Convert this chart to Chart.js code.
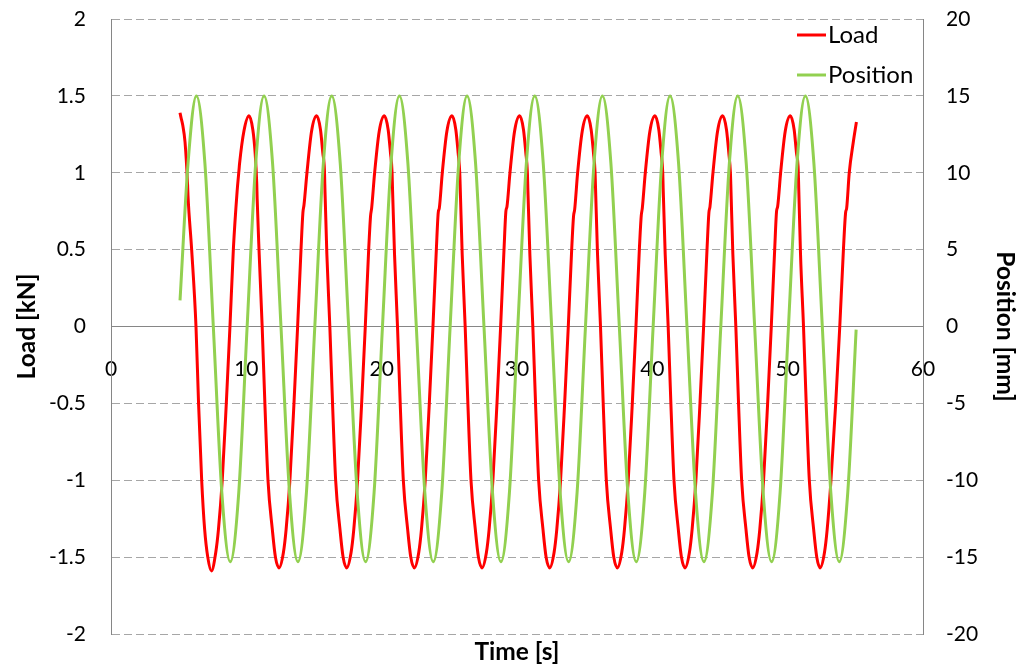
<!DOCTYPE html>
<html>
<head>
<meta charset="utf-8">
<script src="https://cdn.jsdelivr.net/npm/chart.js@4.4.1/dist/chart.umd.min.js"></script>
<style>
html,body{margin:0;padding:0;background:#fff;}
canvas{display:block;}
</style>
</head>
<body>
<canvas id="c" width="1025" height="669"></canvas>
<script>
// ---- data ----
const xTicks = [0, 10, 20, 30, 40, 50, 60];
const loadTicks = [-2, -1.5, -1, -0.5, 0, 0.5, 1, 1.5, 2];
const posTicks = [-20, -15, -10, -5, 0, 5, 10, 15, 20];

const loadTime = [
5.10,5.17,5.30,5.47,5.66,5.69,5.96,6.28,6.47,6.70,6.92,7.15,7.42,
7.74,7.94,8.22,8.52,8.79,9.04,9.32,9.46,9.50,9.82,10.20,
10.48,10.65,10.77,10.80,10.95,11.17,11.37,11.60,11.92,12.15,12.42,
12.74,12.94,13.22,13.52,13.79,14.04,14.18,14.26,14.48,14.82,15.20,
15.48,15.65,15.77,15.80,15.95,16.17,16.37,16.60,16.92,17.15,17.42,
17.74,17.94,18.22,18.52,18.79,19.04,19.18,19.26,19.48,19.82,20.20,
20.48,20.65,20.77,20.80,20.95,21.17,21.37,21.60,21.92,22.15,22.42,
22.74,22.94,23.22,23.52,23.79,24.04,24.18,24.26,24.48,24.82,25.20,
25.48,25.65,25.77,25.80,25.95,26.17,26.37,26.60,26.92,27.15,27.42,
27.74,27.94,28.22,28.52,28.79,29.04,29.18,29.26,29.48,29.82,30.20,
30.48,30.65,30.77,30.80,30.95,31.17,31.37,31.60,31.92,32.15,32.42,
32.74,32.94,33.22,33.52,33.79,34.04,34.18,34.26,34.48,34.82,35.20,
35.48,35.65,35.77,35.80,35.95,36.17,36.37,36.60,36.92,37.15,37.42,
37.74,37.94,38.22,38.52,38.79,39.04,39.18,39.26,39.48,39.82,40.20,
40.48,40.65,40.77,40.80,40.95,41.17,41.37,41.60,41.92,42.15,42.42,
42.74,42.94,43.22,43.52,43.79,44.04,44.18,44.26,44.48,44.82,45.20,
45.48,45.65,45.77,45.80,45.95,46.17,46.37,46.60,46.92,47.15,47.42,
47.74,47.94,48.22,48.52,48.79,49.04,49.18,49.26,49.48,49.82,50.20,
50.48,50.65,50.77,50.80,50.95,51.17,51.37,51.60,51.92,52.15,52.40,
52.72,52.92,53.20,53.55,53.85,54.12,54.28,54.36,54.55,54.85,55.08
];
const loadValue = [
1.39,1.36,1.31,1.20,0.92,0.85,0.50,0.00,-0.50,-1.00,-1.32,-1.50,-1.59,
-1.47,-1.32,-1.00,-0.50,0.00,0.50,0.88,1.02,1.06,1.27,1.37,
1.28,1.13,0.93,0.83,0.47,0.00,-0.50,-1.00,-1.32,-1.50,-1.57,
-1.47,-1.32,-1.00,-0.50,0.00,0.50,0.74,0.79,1.00,1.27,1.37,
1.28,1.13,1.02,0.92,0.47,0.00,-0.50,-1.00,-1.32,-1.50,-1.57,
-1.47,-1.32,-1.00,-0.50,0.00,0.50,0.72,0.77,1.00,1.27,1.37,
1.28,1.13,1.00,0.90,0.47,0.00,-0.50,-1.00,-1.32,-1.50,-1.57,
-1.47,-1.32,-1.00,-0.50,0.00,0.50,0.74,0.77,1.00,1.27,1.37,
1.28,1.13,1.00,0.92,0.47,0.00,-0.50,-1.00,-1.32,-1.50,-1.57,
-1.47,-1.32,-1.00,-0.50,0.00,0.50,0.75,0.78,1.00,1.27,1.37,
1.28,1.13,1.00,0.90,0.47,0.00,-0.50,-1.00,-1.32,-1.50,-1.57,
-1.47,-1.32,-1.00,-0.50,0.00,0.50,0.72,0.76,1.00,1.27,1.37,
1.28,1.13,1.00,0.91,0.47,0.00,-0.50,-1.00,-1.32,-1.50,-1.57,
-1.47,-1.32,-1.00,-0.50,0.00,0.50,0.72,0.77,1.00,1.27,1.37,
1.28,1.13,1.00,0.90,0.47,0.00,-0.50,-1.00,-1.32,-1.50,-1.57,
-1.47,-1.32,-1.00,-0.50,0.00,0.50,0.74,0.78,1.00,1.27,1.37,
1.28,1.13,1.00,0.92,0.47,0.00,-0.50,-1.00,-1.32,-1.50,-1.57,
-1.47,-1.32,-1.00,-0.50,0.00,0.50,0.75,0.78,1.00,1.27,1.37,
1.28,1.13,1.04,0.96,0.47,0.00,-0.50,-1.00,-1.32,-1.50,-1.57,
-1.47,-1.32,-1.00,-0.50,0.00,0.50,0.74,0.77,1.00,1.20,1.33
];

const posTime = [
5.10,
5.69,6.31,6.94,7.56,8.19,8.81,9.44,10.06,
10.69,11.31,11.94,12.56,13.19,13.81,14.44,15.06,
15.69,16.31,16.94,17.56,18.19,18.81,19.44,20.06,
20.69,21.31,21.94,22.56,23.19,23.81,24.44,25.06,
25.69,26.31,26.94,27.56,28.19,28.81,29.44,30.06,
30.69,31.31,31.94,32.56,33.19,33.81,34.44,35.06,
35.69,36.31,36.94,37.56,38.19,38.81,39.44,40.06,
40.69,41.31,41.94,42.56,43.19,43.81,44.44,45.06,
45.69,46.31,46.94,47.56,48.19,48.81,49.44,50.06,
50.69,51.31,51.94,52.56,53.19,53.81,54.44,55.06
];
const posValue = [
1.7,
10.6,15.0,10.6,0.0,-10.8,-15.3,-10.8,0.0,
10.6,15.0,10.6,0.0,-10.8,-15.3,-10.8,0.0,
10.6,15.0,10.6,0.0,-10.8,-15.3,-10.8,0.0,
10.6,15.0,10.6,0.0,-10.8,-15.3,-10.8,0.0,
10.6,15.0,10.6,0.0,-10.8,-15.3,-10.8,0.0,
10.6,15.0,10.6,0.0,-10.8,-15.3,-10.8,0.0,
10.6,15.0,10.6,0.0,-10.8,-15.3,-10.8,0.0,
10.6,15.0,10.6,0.0,-10.8,-15.3,-10.8,0.0,
10.6,15.0,10.6,0.0,-10.8,-15.3,-10.8,0.0,
10.6,15.0,10.6,0.0,-10.8,-15.3,-10.8,-0.2
];

// ---- styling ----
const FAMILY = "Lato, 'Open Sans', sans-serif";
const tickFont = {family: FAMILY, size: 21};
const titleFont = {family: FAMILY, size: 24.5, weight: 'bold'};
const AXIS_GRAY = '#868686';
const GRID_GRAY = '#A6A6A6';

const legendPlugin = {
  id: 'insideLegend',
  afterDraw(chart) {
    const ctx = chart.ctx;
    const rows = [35, 75];
    ctx.save();
    chart.data.datasets.forEach((ds, i) => {
      const y = rows[i];
      ctx.strokeStyle = ds.borderColor;
      ctx.lineWidth = 3;
      ctx.beginPath();
      ctx.moveTo(797, y);
      ctx.lineTo(826, y);
      ctx.stroke();
      ctx.fillStyle = '#000';
      ctx.font = '24px ' + FAMILY;
      ctx.textBaseline = 'middle';
      ctx.textAlign = 'left';
      ctx.fillText(ds.label, 828, y + 0.5);
    });
    ctx.restore();
  }
};

const noVertPad = s => { s.paddingTop = 0; s.paddingBottom = 0; };

new Chart(document.getElementById('c'), {
  type: 'line',
  data: {
    datasets: [
      {
        label: 'Load',
        data: loadTime.map((t, i) => ({x: t, y: loadValue[i]})),
        borderColor: '#FF0000',
        borderWidth: 3,
        pointRadius: 0,
        cubicInterpolationMode: 'monotone',
        fill: false,
        xAxisID: 'x',
        yAxisID: 'y',
        order: 1
      },
      {
        label: 'Position',
        data: posTime.map((t, i) => ({x: t, y: posValue[i]})),
        borderColor: '#92D050',
        borderWidth: 3,
        pointRadius: 0,
        cubicInterpolationMode: 'monotone',
        fill: false,
        xAxisID: 'x',
        yAxisID: 'y1',
        order: 0
      }
    ]
  },
  options: {
    responsive: false,
    animation: false,
    devicePixelRatio: 1,
    layout: {padding: {top: 19, left: 0, right: 0, bottom: 0}},
    plugins: {legend: {display: false}, tooltip: {enabled: false}},
    scales: {
      x: {
        type: 'linear',
        position: {y: 0},
        min: xTicks[0],
        max: xTicks[xTicks.length - 1],
        afterBuildTicks: s => { s.ticks = xTicks.map(v => ({value: v})); },
        ticks: {font: tickFont, color: '#000', padding: 30, maxRotation: 0, autoSkip: false,
                callback: v => String(v)},
        grid: {display: false, drawTicks: false},
        border: {display: true, color: AXIS_GRAY, width: 1},
        afterFit: s => { s.height = 0; }
      },
      xt: {
        type: 'linear',
        axis: 'x',
        position: 'bottom',
        ticks: {display: false},
        grid: {display: false, drawTicks: false},
        border: {display: false},
        title: {display: true, text: 'Time [s]', font: titleFont, color: '#000', padding: {top: 0, bottom: 2}},
        afterFit: s => { s.height = 35; }
      },
      y: {
        position: 'left',
        min: loadTicks[0],
        max: loadTicks[loadTicks.length - 1],
        afterBuildTicks: s => { s.ticks = loadTicks.map(v => ({value: v})); },
        ticks: {font: tickFont, color: '#000', padding: 25, callback: v => String(v)},
        grid: {color: GRID_GRAY, lineWidth: 1, drawTicks: false},
        border: {display: true, color: AXIS_GRAY, width: 1, dash: [8, 4]},
        title: {display: true, text: 'Load [kN]', font: titleFont, color: '#000', padding: {top: 12, bottom: 0}},
        afterFit: s => { s.width = 111; noVertPad(s); }
      },
      y1: {
        position: 'right',
        min: posTicks[0],
        max: posTicks[posTicks.length - 1],
        afterBuildTicks: s => { s.ticks = posTicks.map(v => ({value: v})); },
        ticks: {font: tickFont, color: '#000', padding: 23, callback: v => String(v)},
        grid: {drawOnChartArea: false, drawTicks: false},
        border: {display: true, color: AXIS_GRAY, width: 1},
        title: {display: true, text: 'Position [mm]', font: titleFont, color: '#000', padding: {top: 5, bottom: 0}},
        afterFit: s => { s.width = 102; noVertPad(s); }
      }
    }
  },
  plugins: [legendPlugin]
});
</script>
</body>
</html>
